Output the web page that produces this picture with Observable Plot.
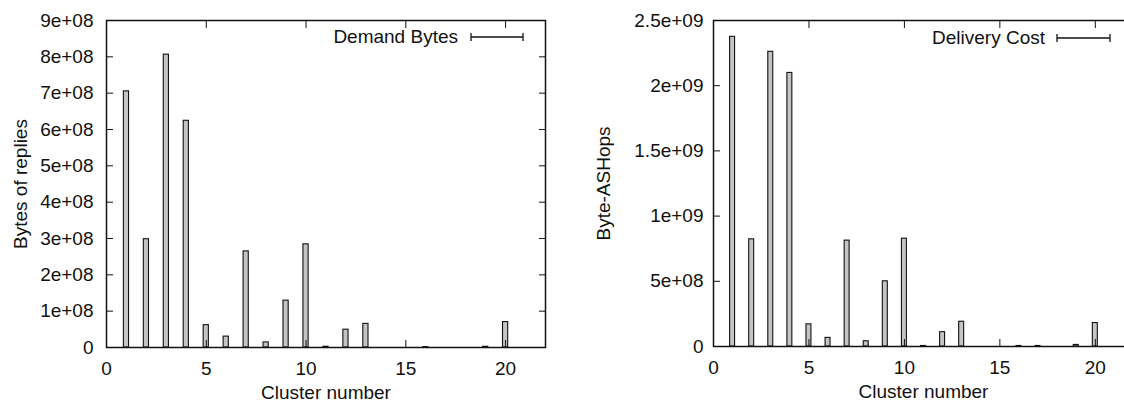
<!DOCTYPE html>
<html>
<head>
<meta charset="utf-8">
<script src="https://cdn.jsdelivr.net/npm/d3@7"></script>
<script src="https://cdn.jsdelivr.net/npm/@observablehq/plot@0.6"></script>
<style>
  html, body { margin: 0; padding: 0; background: #fff; }
  #page { position: relative; width: 1124px; height: 403px; overflow: hidden; background: #fff;
          font-family: "Liberation Sans", Arial, sans-serif; }
  .panel { position: absolute; top: 0; height: 403px; overflow: hidden; }
  .panel svg { max-width: none !important; }
  .legend { position: absolute; font-size: 19px; color: #111; white-space: nowrap; line-height: 19px; }
</style>
</head>
<body>
<div id="page">
  <div id="left" class="panel" style="left:0;width:560px"></div>
  <div id="right" class="panel" style="left:560px;width:564px"></div>
</div>
<script>
// ---- data ----
const clusters = [1, 2, 3, 4, 5, 6, 7, 8, 9, 10, 11, 12, 13, 14, 15, 16, 17, 18, 19, 20];
const demandBytes = [7.05e8, 2.98e8, 8.06e8, 6.24e8, 0.615e8, 0.30e8, 2.645e8, 0.14e8, 1.29e8, 2.84e8,
                     0.02e8, 0.49e8, 0.65e8, 0, 0, 0.01e8, 0, 0, 0.02e8, 0.70e8];
const deliveryCost = [2.375e9, 0.822e9, 2.26e9, 2.098e9, 0.17e9, 0.066e9, 0.812e9, 0.04e9, 0.50e9, 0.827e9,
                      0.004e9, 0.11e9, 0.19e9, 0, 0, 0.004e9, 0.004e9, 0, 0.012e9, 0.18e9];
const xTicks = [0, 5, 10, 15, 20];
const xTickLabels = ["0", "5", "10", "15", "20"];
const yTicksLeft = [0, 1e8, 2e8, 3e8, 4e8, 5e8, 6e8, 7e8, 8e8, 9e8];
const yTickLabelsLeft = ["0", "1e+08", "2e+08", "3e+08", "4e+08", "5e+08", "6e+08", "7e+08", "8e+08", "9e+08"];
const yTicksRight = [0, 5e8, 1e9, 1.5e9, 2e9, 2.5e9];
const yTickLabelsRight = ["0", "5e+08", "1e+09", "1.5e+09", "2e+09", "2.5e+09"];
const xLabel = "Cluster number";
const yLabelLeft = "Bytes of replies";
const yLabelRight = "Byte-ASHops";
const legendLeft = "Demand Bytes";
const legendRight = "Delivery Cost";

const halfWidth = 0.13;

function panel({values, yMax, yTicks, yTickLabels, yLabel, width, marginLeft, marginRight, marginBottom, yLabelDx, yTickPadding}) {
  const rows = clusters.map((c, i) => ({c, v: values[i]}));
  return Plot.plot({
    width, height: 403,
    marginLeft, marginRight, marginTop: 20, marginBottom,
    style: {fontFamily: '"Liberation Sans", Arial, sans-serif', fontSize: "19px", color: "#111", background: "#fff", maxWidth: "none"},
    x: {domain: [0, 22]},
    y: {domain: [0, yMax]},
    marks: [
      Plot.rectY(rows, {x1: d => d.c - halfWidth, x2: d => d.c + halfWidth, y1: 0, y2: "v",
                        fill: "#c4c4c4", stroke: "#111", strokeWidth: 1.1}),
      Plot.axisX({ticks: xTicks, tickFormat: (d) => xTickLabels[xTicks.indexOf(d)], tickSize: -7, tickPadding: 21, label: null, stroke: "#111"}),
      Plot.axisX({anchor: "top", ticks: xTicks, tickFormat: () => "", tickSize: -7, label: null, stroke: "#111"}),
      Plot.axisY({ticks: yTicks, tickFormat: (d) => yTickLabels[yTicks.indexOf(d)], tickSize: -7, tickPadding: yTickPadding, label: null, stroke: "#111"}),
      Plot.axisY({anchor: "right", ticks: yTicks, tickFormat: () => "", tickSize: -7, label: null, stroke: "#111"}),
      Plot.frame({stroke: "#111", strokeWidth: 1.5}),
      Plot.text([xLabel], {frameAnchor: "bottom", dy: 45, textAnchor: "middle", lineAnchor: "middle", fill: "#111"}),
      Plot.text([yLabel], {frameAnchor: "left", dx: yLabelDx, rotate: -90, textAnchor: "middle", lineAnchor: "middle", fill: "#111"})
    ]
  });
}

document.getElementById("left").append(panel({
  values: demandBytes, yMax: 9e8, yTicks: yTicksLeft, yTickLabels: yTickLabelsLeft, yLabel: yLabelLeft,
  width: 560, marginLeft: 106, marginRight: 15, marginBottom: 56, yLabelDx: -86, yTickPadding: 20
}));
document.getElementById("right").append(panel({
  values: deliveryCost, yMax: 2.5e9, yTicks: yTicksRight, yTickLabels: yTickLabelsRight, yLabel: yLabelRight,
  width: 580, marginLeft: 153, marginRight: 7, marginBottom: 57, yLabelDx: -110, yTickPadding: 17
}));

// legends (key entries drawn as text + error-bar symbol)
function legend(label, textRight, barLeft, barRight, cy) {
  const page = document.getElementById("page");
  const t = document.createElement("div");
  t.className = "legend";
  t.textContent = label;
  t.style.right = (1124 - textRight) + "px";
  t.style.top = (cy - 10) + "px";
  page.append(t);
  const svg = d3.create("svg").attr("width", barRight - barLeft + 4).attr("height", 12)
    .style("position", "absolute").style("left", (barLeft - 2) + "px").style("top", (cy - 6) + "px");
  svg.append("path").attr("d", `M2,6H${barRight - barLeft + 2}M2,2V10M${barRight - barLeft + 2},2V10`)
    .attr("stroke", "#111").attr("stroke-width", 1.3).attr("fill", "none");
  page.append(svg.node());
}
legend(legendLeft, 458, 471, 523, 37);
legend(legendRight, 1045, 1057, 1110, 38);
</script>
</body>
</html>
